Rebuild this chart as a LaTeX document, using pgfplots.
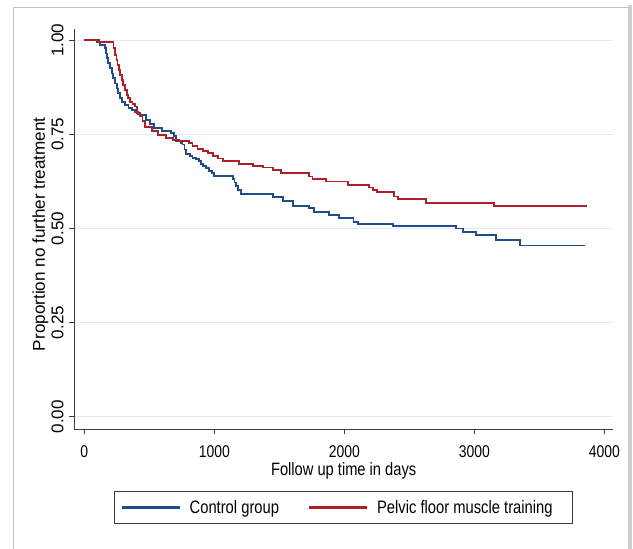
\documentclass[border=0pt]{standalone}
\usepackage{pgfplots}
\pgfplotsset{compat=1.18}
\usepackage{fontspec}
\setmainfont[FakeStretch=0.82]{Liberation Sans}
\newfontfamily\sfn{Liberation Sans}
\newfontfamily\sfs[FakeStretch=0.82]{Liberation Sans}
\definecolor{kmblue}{RGB}{34,76,136}
\definecolor{kmred}{RGB}{172,32,42}
\definecolor{gridc}{RGB}{226,235,240}
\definecolor{axc}{RGB}{60,60,60}
\definecolor{framec}{RGB}{195,195,195}
\begin{document}
\begin{tikzpicture}
\path[use as bounding box] (0,0) rectangle (633bp,549bp);
\fill[white] (0,0) rectangle (633bp,549bp);
\draw[framec, line width=1bp] (13.3bp,0bp) -- (13.3bp,541.7bp) -- (629.5bp,541.7bp);
\draw[framec!80, line width=4bp] (629.5bp,0bp) -- (629.5bp,543.7bp);
\begin{axis}[
  at={(74.3bp,119.7bp)}, anchor=south west,
  scale only axis, width=538.7bp, height=400.3bp,
  xmin=-77, xmax=4067, ymin=-0.0335, ymax=1.030,
  axis x line*=bottom, axis y line*=left,
  axis line style={axc, line width=1.3bp, -},
  xtick={0,1000,2000,3000,4000},
  xticklabels={0,1000,2000,3000,4000},
  ytick={0,0.25,0.5,0.75,1},
  yticklabels={0.00,0.25,0.50,0.75,1.00},
  tick align=outside, major tick length=5bp,
  tick style={axc, line width=1bp},
  ymajorgrids, grid style={gridc, line width=1bp},
  xticklabel style={font=\sfs\fontsize{17bp}{17bp}\selectfont, anchor=base, yshift=-23bp},
  yticklabel style={font=\sfn\fontsize{17bp}{17bp}\selectfont, rotate=90, anchor=base, yshift=6bp},
  xlabel={Follow up time in days},
  ylabel={Proportion no further treatment},
  xlabel style={font=\sfs\fontsize{17.9bp}{18bp}\selectfont, at={(axis description cs:0.5,-0.1142)}, anchor=base},
  ylabel style={font=\sfn\fontsize{17.1bp}{18bp}\selectfont, at={(axis description cs:-0.0545,0.4875)}, anchor=base},
  legend columns=2,
  legend style={at={(axis description cs:0.5,-0.1534)}, anchor=north,
    draw=axc, line width=1.2bp, inner xsep=7bp, inner ysep=9bp,
    font=\sfs\fontsize{18bp}{18bp}\selectfont,
    nodes={inner sep=0pt},
    /tikz/every odd column/.append style={column sep=10bp},
    /tikz/every even column/.append style={column sep=30bp}},
  clip=false,
]
\addplot[const plot, kmblue, line width=1.8bp,
  legend image code/.code={\color{kmblue}\pgfsetfillcolor{kmblue}\pgfpathrectangle{\pgfpoint{0bp}{-1.1bp}}{\pgfpoint{58bp}{2.2bp}}\pgfusepath{fill}}] coordinates {
(0,1.000)(95,0.995)(121,0.988)(159,0.979)(166,0.965)(172,0.952)(185,0.939)(198,0.926)(210,0.912)(223,0.899)(236,0.885)(249,0.872)(262,0.859)(274,0.846)(290,0.837)(313,0.828)(340,0.821)(364,0.815)(390,0.810)(410,0.803)(435,0.801)(474,0.788)(505,0.778)(538,0.768)(600,0.760)(667,0.754)(690,0.745)(705,0.732)(740,0.727)(756,0.723)(770,0.710)(782,0.697)(810,0.693)(833,0.688)(860,0.684)(885,0.679)(897,0.672)(910,0.666)(935,0.660)(962,0.653)(980,0.647)(1000,0.640)(1141,0.631)(1155,0.622)(1167,0.613)(1185,0.602)(1205,0.591)(1449,0.583)(1530,0.572)(1603,0.560)(1731,0.554)(1769,0.543)(1885,0.535)(1962,0.527)(2070,0.518)(2106,0.512)(2375,0.506)(2859,0.500)(2910,0.491)(3013,0.483)(3167,0.470)(3351,0.455)(3848,0.455)
};
\addlegendentry{Control group}
\addplot[const plot, kmred, line width=1.8bp,
  legend image code/.code={\color{kmred}\pgfsetfillcolor{kmred}\pgfpathrectangle{\pgfpoint{0bp}{-1.1bp}}{\pgfpoint{58bp}{2.2bp}}\pgfusepath{fill}}] coordinates {
(0,1.000)(115,0.996)(225,0.980)(238,0.961)(247,0.947)(256,0.934)(265,0.921)(274,0.908)(287,0.894)(300,0.881)(313,0.868)(326,0.855)(339,0.846)(352,0.837)(370,0.830)(390,0.824)(403,0.806)(428,0.798)(448,0.785)(467,0.770)(520,0.760)(564,0.749)(628,0.741)(680,0.735)(731,0.732)(808,0.728)(833,0.719)(870,0.712)(910,0.706)(950,0.700)(987,0.693)(1030,0.686)(1064,0.679)(1192,0.671)(1300,0.666)(1372,0.662)(1449,0.655)(1513,0.647)(1731,0.638)(1756,0.631)(1859,0.625)(2026,0.616)(2192,0.609)(2218,0.603)(2249,0.596)(2385,0.585)(2410,0.578)(2628,0.567)(3154,0.560)(3865,0.560)
};
\addlegendentry{Pelvic floor muscle training\hspace*{13bp}}
\end{axis}
\end{tikzpicture}
\end{document}
